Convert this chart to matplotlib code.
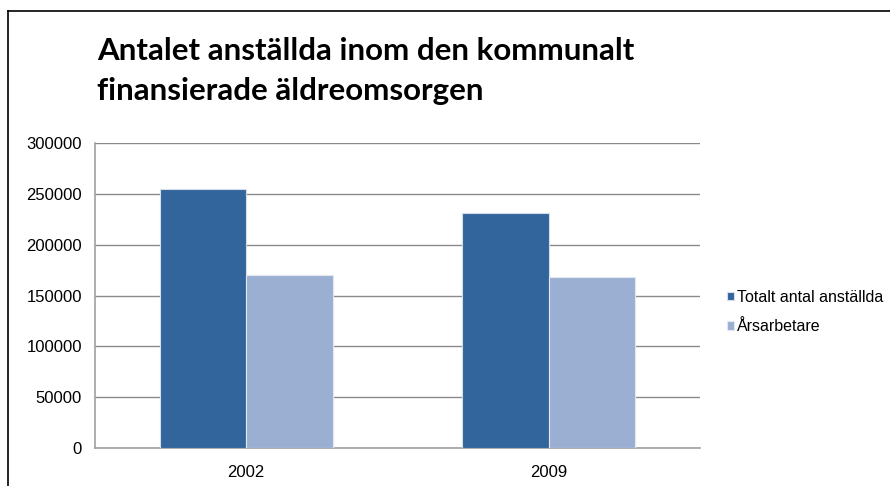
import matplotlib.pyplot as plt
import numpy as np
from matplotlib.lines import Line2D

years = ["2002", "2009"]
totalt = [255000, 231000]
arsarbetare = [170000, 168000]
series_names = ["Totalt antal anställda", "Årsarbetare"]
title_lines = ["Antalet anställda inom den kommunalt", "finansierade äldreomsorgen"]

DARK = "#31659c"
LIGHT = "#9bafd3"
GRID = "#8a8a8a"


def main():
    fig = plt.figure(figsize=(8.9, 4.86), dpi=100)
    ax = fig.add_axes([95 / 890, 1 - 448 / 486, 605 / 890, 305 / 486])

    x = np.arange(len(years))
    w = 0.286
    ax.bar(x - w / 2, totalt, w, color=DARK, edgecolor="#d6dcea", linewidth=0.8,
           label=series_names[0], zorder=3)
    ax.bar(x + w / 2, arsarbetare, w, color=LIGHT, edgecolor="#e2e7f1", linewidth=0.8,
           label=series_names[1], zorder=3)

    ax.set_xlim(-0.5, 1.5)
    ax.set_ylim(0, 300000)
    ax.set_yticks(range(0, 300001, 50000))
    ax.set_xticks(x)
    ax.set_xticklabels(years)
    ax.yaxis.grid(True, color=GRID, linewidth=1.0, zorder=0)
    ax.set_axisbelow(True)
    for s in ["top", "right"]:
        ax.spines[s].set_visible(False)
    for s in ["left", "bottom"]:
        ax.spines[s].set_color("#a0a0a0")
        ax.spines[s].set_linewidth(1.2)
    ax.tick_params(axis="both", length=0, labelsize=12, colors="black")
    ax.tick_params(axis="y", pad=9.5)
    ax.tick_params(axis="x", pad=12)
    for lab in ax.get_xticklabels() + ax.get_yticklabels():
        lab.set_fontfamily("Liberation Sans")

    # title, two lines placed on their baselines
    for i, line in enumerate(title_lines):
        fig.text(97 / 890, 1 - (60 + 40 * i) / 486, line, fontsize=22.5, fontweight="bold",
                 fontfamily="Lato", va="baseline", ha="left")

    fig.legend(loc="center left", bbox_to_anchor=(727 / 890, 1 - 312 / 486),
               frameon=False, borderpad=0, borderaxespad=0,
               handlelength=0.43, handleheight=0.43,
               handletextpad=0.19, labelspacing=0.9,
               prop={"family": "Liberation Sans", "size": 11.5})

    # outer frame (left and top edges)
    fig.add_artist(Line2D([8 / 890, 8 / 890], [0, 1 - 11 / 486], color="black",
                          linewidth=1.2, transform=fig.transFigure))
    fig.add_artist(Line2D([8 / 890, 1], [1 - 11 / 486, 1 - 11 / 486], color="black",
                          linewidth=1.2, transform=fig.transFigure))

    fig.savefig("out.png", dpi=100)
    plt.close(fig)


if __name__ == "__main__":
    main()
